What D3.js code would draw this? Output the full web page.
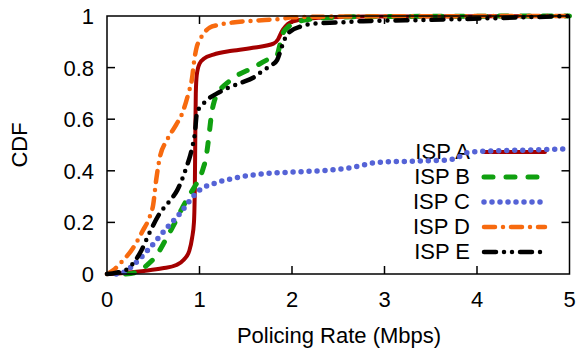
<!DOCTYPE html>
<html>
<head>
<meta charset="utf-8">
<script src="https://cdn.jsdelivr.net/npm/d3@7"></script>
<style>
  body { margin: 0; background: #fff; }
  svg text { font-family: "Liberation Sans", Arial, sans-serif; font-size: 22px; fill: #000; }
</style>
</head>
<body>
<svg id="chart" width="579" height="350"></svg>
<script>
// CDF of policing rate per ISP
const xTicks = [0, 1, 2, 3, 4, 5];
const yTicks = [0, 0.2, 0.4, 0.6, 0.8, 1];
const yTickLabels = ['0', '0.2', '0.4', '0.6', '0.8', '1'];

const ispNames = ['ISP A', 'ISP B', 'ISP C', 'ISP D', 'ISP E'];

const ispA_x = [0, 0.15, 0.4, 0.6, 0.75, 0.83, 0.89, 0.92, 0.94, 0.95, 0.955, 0.96, 0.97, 1.0, 1.05, 1.15, 1.35, 1.6, 1.8, 1.85, 1.89, 1.93, 1.98, 2.08, 2.3, 2.8, 5];
const ispA_y = [0, 0.003, 0.012, 0.022, 0.035, 0.055, 0.09, 0.14, 0.2, 0.35, 0.55, 0.7, 0.77, 0.815, 0.835, 0.85, 0.865, 0.878, 0.893, 0.91, 0.94, 0.96, 0.975, 0.985, 0.993, 0.998, 1];

const ispB_x = [0.2, 0.3, 0.36, 0.45, 0.52, 0.63, 0.75, 0.82, 0.9, 0.95, 1.0, 1.04, 1.07, 1.09, 1.11, 1.13, 1.16, 1.2, 1.33, 1.58, 1.73, 1.84, 1.87, 1.9, 1.95, 2.01, 2.15, 2.5, 3, 5];
const ispB_y = [0, 0.005, 0.015, 0.04, 0.065, 0.13, 0.21, 0.26, 0.31, 0.34, 0.37, 0.41, 0.45, 0.5, 0.56, 0.62, 0.67, 0.7, 0.75, 0.8, 0.83, 0.85, 0.89, 0.93, 0.955, 0.97, 0.985, 0.995, 0.998, 1];

const ispC_x = [0.1, 0.2, 0.3, 0.46, 0.65, 0.79, 0.93, 1.0, 1.15, 1.36, 1.6, 2.0, 2.3, 2.6, 2.75, 2.84, 2.95, 3.4, 3.68, 3.8, 3.89, 4.03, 4.5, 5];
const ispC_y = [0, 0.01, 0.04, 0.10, 0.18, 0.235, 0.30, 0.325, 0.35, 0.37, 0.385, 0.395, 0.40, 0.41, 0.42, 0.428, 0.433, 0.438, 0.442, 0.453, 0.47, 0.475, 0.48, 0.485];

const ispD_x = [0, 0.07, 0.14, 0.28, 0.39, 0.46, 0.5, 0.53, 0.57, 0.65, 0.75, 0.81, 0.88, 0.92, 0.94, 0.97, 1.0, 1.05, 1.11, 1.2, 1.36, 1.6, 1.9, 2.0, 2.5, 5];
const ispD_y = [0, 0.015, 0.04, 0.10, 0.17, 0.22, 0.27, 0.36, 0.45, 0.52, 0.58, 0.62, 0.70, 0.76, 0.82, 0.88, 0.905, 0.935, 0.955, 0.965, 0.975, 0.982, 0.99, 0.995, 0.998, 1];

const ispE_x = [0, 0.1, 0.2, 0.28, 0.37, 0.46, 0.57, 0.67, 0.76, 0.86, 0.9, 0.93, 0.95, 0.97, 1.0, 1.04, 1.1, 1.19, 1.3, 1.44, 1.6, 1.69, 1.78, 1.84, 1.88, 1.92, 1.98, 2.1, 2.23, 2.5, 2.77, 3.5, 4.03, 5];
const ispE_y = [0, 0.005, 0.015, 0.04, 0.09, 0.16, 0.235, 0.28, 0.325, 0.415, 0.46, 0.505, 0.545, 0.62, 0.645, 0.66, 0.68, 0.70, 0.72, 0.74, 0.765, 0.79, 0.81, 0.83, 0.87, 0.91, 0.94, 0.96, 0.97, 0.975, 0.98, 0.985, 0.99, 1];

// line styles (gnuplot-like)
const styles = [
    { color: '#a40000', width: 4, dash: null },
    { color: '#10a010', width: 5, dash: '9 13' },
    { color: '#5563d6', width: 5.5, dash: '0 8' },
    { color: '#f76a0f', width: 4.5, dash: '11 8 0 8' },
    { color: '#000000', width: 4.5, dash: '12 8 0 8 0 8' }
];

const series = [
    { name: ispNames[0], xs: ispA_x, ys: ispA_y },
    { name: ispNames[1], xs: ispB_x, ys: ispB_y },
    { name: ispNames[2], xs: ispC_x, ys: ispC_y },
    { name: ispNames[3], xs: ispD_x, ys: ispD_y },
    { name: ispNames[4], xs: ispE_x, ys: ispE_y }
];

const x = d3.scaleLinear().domain([0, 5]).range([107, 569.5]);
const y = d3.scaleLinear().domain([0, 1]).range([274, 16]);

const svg = d3.select('#chart');
const tickLen = 8;

// ticks (inside, mirrored)
const ticks = svg.append('g').attr('stroke', '#000').attr('stroke-width', 1.5);
xTicks.slice(1, -1).forEach(v => {
    ticks.append('line').attr('x1', x(v)).attr('x2', x(v)).attr('y1', y(0)).attr('y2', y(0) - tickLen);
    ticks.append('line').attr('x1', x(v)).attr('x2', x(v)).attr('y1', y(1)).attr('y2', y(1) + tickLen);
});
yTicks.slice(1, -1).forEach(v => {
    ticks.append('line').attr('x1', x(0)).attr('x2', x(0) + tickLen).attr('y1', y(v)).attr('y2', y(v));
    ticks.append('line').attr('x1', x(5)).attr('x2', x(5) - tickLen).attr('y1', y(v)).attr('y2', y(v));
});

// tick labels
svg.append('g').selectAll('text').data(xTicks).join('text')
    .attr('x', d => x(d)).attr('y', 307)
    .attr('text-anchor', 'middle')
    .text(d => d);
svg.append('g').selectAll('text').data(yTicks).join('text')
    .attr('x', 94).attr('y', d => y(d) + 8)
    .attr('text-anchor', 'end')
    .text((d, i) => yTickLabels[i]);

// axis titles
svg.append('text')
    .attr('x', 339).attr('y', 343)
    .attr('text-anchor', 'middle')
    .text('Policing Rate (Mbps)');
svg.append('text')
    .attr('transform', 'translate(27,145) rotate(-90)')
    .attr('text-anchor', 'middle')
    .text('CDF');

const line = d3.line()
    .x(d => x(d[0]))
    .y(d => y(d[1]))
    .curve(d3.curveMonotoneX);

const plot = svg.append('g');
series.forEach((s, i) => {
    const st = styles[i];
    const ly = 152 + i * 25;

    // key entry
    plot.append('text')
        .attr('x', 470).attr('y', ly + 7)
        .attr('text-anchor', 'end')
        .text(s.name);
    plot.append('line')
        .attr('x1', 484).attr('x2', 545)
        .attr('y1', ly).attr('y2', ly)
        .attr('stroke', st.color)
        .attr('stroke-width', st.width)
        .attr('stroke-linecap', 'round')
        .attr('stroke-dasharray', st.dash);

    // curve
    const pts = s.xs.map((v, k) => [v, s.ys[k]]);
    plot.append('path')
        .datum(pts)
        .attr('d', line)
        .attr('fill', 'none')
        .attr('stroke', st.color)
        .attr('stroke-width', st.width)
        .attr('stroke-linecap', 'round')
        .attr('stroke-linejoin', 'round')
        .attr('stroke-dasharray', st.dash);
});

// frame
svg.append('rect')
    .attr('x', x(0)).attr('y', y(1))
    .attr('width', x(5) - x(0)).attr('height', y(0) - y(1))
    .attr('fill', 'none')
    .attr('stroke', '#000')
    .attr('stroke-width', 1.5);
</script>
</body>
</html>
